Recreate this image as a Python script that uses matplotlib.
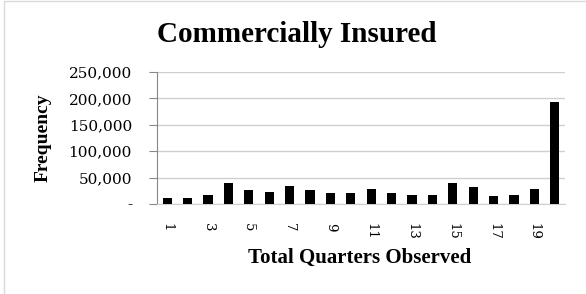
import matplotlib
matplotlib.use("Agg")
import matplotlib.pyplot as plt
from matplotlib.ticker import FuncFormatter
import matplotlib.patches as patches

# data
quarters = list(range(1, 21))
frequency = [11500, 11500, 17000, 40000, 27000, 23000, 34500, 27000, 21000, 21000,
             29000, 21000, 17000, 17000, 40000, 32500, 15000, 17000, 29000, 193000]
tick_labels = [str(q) if q % 2 == 1 else "" for q in quarters]
yticks = [0, 50000, 100000, 150000, 200000, 250000]

W, H = 586, 294
fig = plt.figure(figsize=(W / 100, H / 100), dpi=100)
ax = fig.add_axes([157 / W, 1 - 204 / H, (565 - 157) / W, (204 - 72) / H])

serif = ["Liberation Serif", "DejaVu Serif"]
tickfont = ["DejaVu Serif"]

ax.bar(quarters, frequency, width=0.45, color="black", zorder=3)
ax.set_xlim(0.5, 20.5)
ax.set_ylim(0, 250000)
ax.set_yticks(yticks)
ax.yaxis.set_major_formatter(
    FuncFormatter(lambda v, p: "-" if v == 0 else f"{int(v):,}")
)
ax.set_xticks(quarters)
ax.set_xticklabels(tick_labels, rotation=270, family=tickfont, fontsize=9.5)
ax.tick_params(axis="x", length=0, pad=14)
ax.tick_params(axis="y", length=6, width=0.8, color="#888888", pad=12)
for lab in ax.get_yticklabels():
    lab.set_family(tickfont)
    lab.set_fontsize(11)

ax.grid(axis="y", color="#d0d0d0", linewidth=1, zorder=0)
for s in ["top", "right"]:
    ax.spines[s].set_visible(False)
ax.spines["left"].set_color("#888888")
ax.spines["bottom"].set_color("#d0d0d0")

fig.text(297 / W, 1 - 34 / H, "Commercially Insured", ha="center", va="center",
         family=serif, fontweight="bold", fontsize=21)
fig.text(360 / W, 1 - 258 / H, "Total Quarters Observed", ha="center", va="center",
         family=serif, fontweight="bold", fontsize=15)
fig.text(43 / W, 1 - 138 / H, "Frequency", ha="center", va="center", rotation=90,
         family=serif, fontweight="bold", fontsize=14)

# light frame round the chart area
fig.patches.append(patches.Rectangle((4 / W, -0.1), 1.2, 1 - 1.5 / H + 0.1,
                                     transform=fig.transFigure, fill=False,
                                     edgecolor="#d9d9d9", linewidth=1))

fig.savefig("out.png", dpi=100)
